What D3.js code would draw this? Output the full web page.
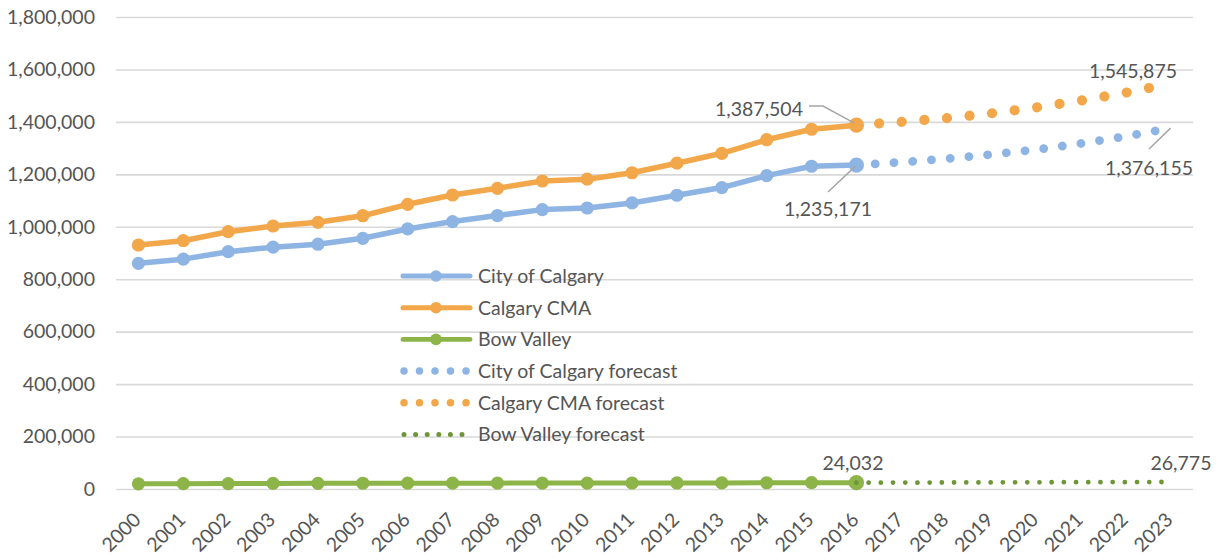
<!DOCTYPE html>
<html>
<head>
<meta charset="utf-8">
<script src="https://cdn.jsdelivr.net/npm/d3@7/dist/d3.min.js"></script>
<style>
  html, body { margin: 0; padding: 0; background: #fff; }
  svg text { font-family: Lato, "Open Sans", sans-serif; fill: #555555; }
</style>
</head>
<body>
<svg id="chart" width="1221" height="560"></svg>
<script>
// Population of Calgary and region, actuals 2000-2016 and forecast 2016-2023
const years = ["2000","2001","2002","2003","2004","2005","2006","2007","2008","2009","2010","2011","2012","2013","2014","2015","2016","2017","2018","2019","2020","2021","2022","2023"];
const actualYears = years.slice(0, 17);
const forecastYears = years.slice(16);

const cityOfCalgary = [860749, 876519, 904987, 922315, 933495, 956078, 991759, 1019942, 1042892, 1065455, 1071515, 1090936, 1120225, 1149552, 1195194, 1230915, 1235171];
const calgaryCMA = [930500, 946900, 981200, 1003000, 1017000, 1042200, 1085700, 1121200, 1146700, 1174600, 1181500, 1206000, 1242500, 1280200, 1332000, 1372000, 1387504];
const bowValley = [19800, 20300, 20700, 21300, 21600, 21900, 22100, 22200, 22400, 22600, 22700, 22800, 23000, 23200, 23900, 24000, 24032];

const cityForecast = [1235171, 1246300, 1259200, 1275600, 1294300, 1317600, 1344700, 1376155];
const cmaForecast = [1387504, 1400300, 1414100, 1432400, 1454900, 1481200, 1511300, 1545875];
const bowForecast = [24032, 24400, 24800, 25200, 25600, 26000, 26400, 26775];

const yTicks = [0, 200000, 400000, 600000, 800000, 1000000, 1200000, 1400000, 1600000, 1800000];

const seriesNames = ["City of Calgary", "Calgary CMA", "Bow Valley", "City of Calgary forecast", "Calgary CMA forecast", "Bow Valley forecast"];

const colors = { city: "#8db4e3", cma: "#f2a84a", bow: "#8cb448", bowF: "#6e9636" };

const svg = d3.select("#chart");
const plotLeft = 116, plotRight = 1193, plotTop = 17, plotBottom = 489;

const x = d3.scalePoint().domain(years).range([plotLeft, plotRight]).padding(0.5);
const y = d3.scaleLinear().domain([0, 1800000]).range([plotBottom, plotTop]);
const fmt = d3.format(",");

// horizontal gridlines
const yAxis = d3.axisLeft(y).tickValues(yTicks).tickFormat(fmt).tickSize(-(plotRight - plotLeft)).tickPadding(21);
const gy = svg.append("g").attr("transform", `translate(${plotLeft},0)`).call(yAxis);
gy.select(".domain").remove();
gy.selectAll(".tick line").attr("stroke", "#d9d9d9").attr("stroke-width", 1.6);
gy.selectAll(".tick text").attr("font-size", 19.5).attr("fill", "#555555").style("font-family", "Lato, sans-serif");

// x axis labels, rotated
const xAxis = d3.axisBottom(x).tickSize(0).tickPadding(0);
const gx = svg.append("g").attr("transform", `translate(0,${plotBottom})`).call(xAxis);
gx.select(".domain").remove();
gx.selectAll(".tick text")
  .attr("font-size", 19.5)
  .attr("fill", "#555555")
  .style("font-family", "Lato, sans-serif")
  .attr("text-anchor", "end")
  .attr("dy", 0)
  .attr("y", 0)
  .attr("transform", "translate(3,32) rotate(-45)");

const line = d3.line().x(d => x(d[0])).y(d => y(d[1]));
const zip = (ks, vs) => ks.map((k, i) => [k, vs[i]]);

// forecast dotted lines
function dotted(data, color, w, gap) {
  svg.append("path").datum(data)
    .attr("d", line).attr("fill", "none")
    .attr("stroke", color).attr("stroke-width", w)
    .attr("stroke-linecap", "round")
    .attr("stroke-dasharray", `0.001 ${gap}`);
}

// solid lines with markers
function solid(data, color, w, r) {
  svg.append("path").datum(data)
    .attr("d", line).attr("fill", "none")
    .attr("stroke", color).attr("stroke-width", w)
    .attr("stroke-linejoin", "round");
  svg.append("g").selectAll("circle").data(data).join("circle")
    .attr("cx", d => x(d[0])).attr("cy", d => y(d[1]))
    .attr("r", (d, i) => i === data.length - 1 ? r + 1 : r)
    .attr("fill", color);
}

solid(zip(actualYears, cityOfCalgary), colors.city, 5.5, 6.6);
solid(zip(actualYears, calgaryCMA), colors.cma, 5.5, 6.6);
solid(zip(actualYears, bowValley), colors.bow, 5, 6.6);
dotted(zip(forecastYears, cityForecast), colors.city, 8.8, 18.8);
dotted(zip(forecastYears, cmaForecast), colors.cma, 10.2, 22.7);
dotted(zip(forecastYears, bowForecast), colors.bowF, 4.8, 12.2);

// data labels with leader lines
const leader = "#a6a6a6";
function label(txt, tx, ty, anchor) {
  svg.append("text").attr("x", tx).attr("y", ty).attr("text-anchor", anchor)
    .attr("font-size", 19.5).text(txt);
}
function leaderLine(pts) {
  svg.append("path").attr("d", d3.line()(pts)).attr("fill", "none")
    .attr("stroke", leader).attr("stroke-width", 1.5);
}
const x16 = x("2016"), x23 = x("2023");
const cma16 = y(cmaForecast[0]), city16 = y(cityForecast[0]);
const cma23 = y(cmaForecast[7]), city23 = y(cityForecast[7]);

label(fmt(cmaForecast[0]), 803, 116, "end");
leaderLine([[809, 106], [823, 106], [x16 - 2, cma16 - 2]]);

label(fmt(cityForecast[0]), 828, 216, "middle");
leaderLine([[828, 192], [x16 - 1, city16 + 1]]);

label(fmt(cmaForecast[7]), 1133, 78, "middle");

label(fmt(cityForecast[7]), 1149, 175, "middle");
leaderLine([[1149, 149], [x23, city23]]);

label(fmt(bowForecast[0]), 853, 470, "middle");
label(fmt(bowForecast[7]), 1181, 470, "middle");

// legend
const legendRows = [
  { name: seriesNames[0], color: colors.city, kind: "solid", w: 5 },
  { name: seriesNames[1], color: colors.cma, kind: "solid", w: 5 },
  { name: seriesNames[2], color: colors.bow, kind: "solid", w: 4.8 },
  { name: seriesNames[3], color: colors.city, kind: "dot", w: 7.5, gap: 15.5 },
  { name: seriesNames[4], color: colors.cma, kind: "dot", w: 7.5, gap: 15.5 },
  { name: seriesNames[5], color: colors.bowF, kind: "dot", w: 5, gap: 11.6 }
];
const lg = svg.append("g");
legendRows.forEach((row, i) => {
  const cy = 276 + i * 31.7;
  const g = lg.append("g");
  const ln = g.append("line").attr("x1", 403).attr("x2", 470).attr("y1", cy).attr("y2", cy)
    .attr("stroke", row.color).attr("stroke-width", row.w).attr("stroke-linecap", "round");
  if (row.kind === "solid") {
    g.append("circle").attr("cx", 436).attr("cy", cy).attr("r", 5.8).attr("fill", row.color);
  } else {
    ln.attr("x1", 404).attr("x2", 472).attr("stroke-dasharray", `0.001 ${row.gap}`);
  }
  g.append("text").attr("x", 478).attr("y", cy).attr("dy", "0.35em")
    .attr("font-size", 19.5).text(row.name);
});
</script>
</body>
</html>
